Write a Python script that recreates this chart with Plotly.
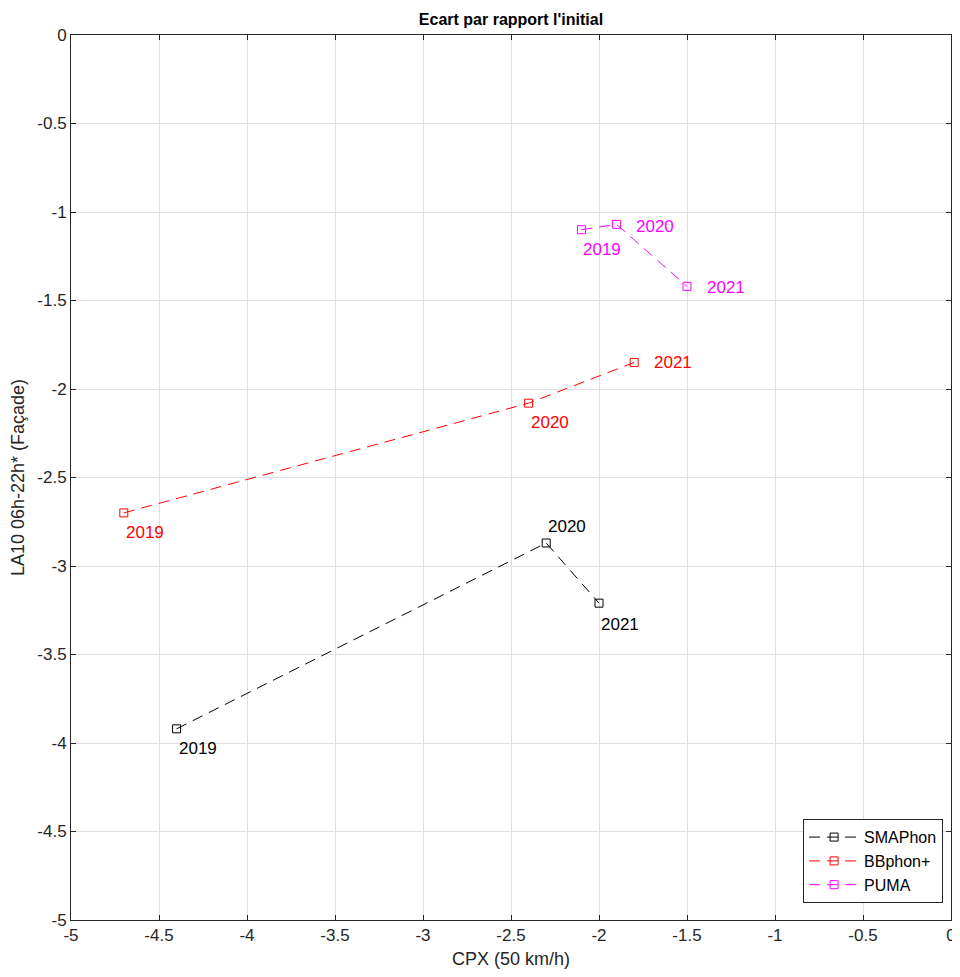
import plotly.graph_objects as go

years = ["2019", "2020", "2021"]
series_names = ["SMAPhon", "BBphon+", "PUMA"]
cpx = {
    "SMAPhon": [-4.40, -2.30, -2.00],
    "BBphon+": [-4.70, -2.40, -1.80],
    "PUMA": [-2.10, -1.90, -1.50],
}
la10 = {
    "SMAPhon": [-3.92, -2.87, -3.21],
    "BBphon+": [-2.70, -2.08, -1.85],
    "PUMA": [-1.10, -1.07, -1.42],
}
tick_vals = [-5, -4.5, -4, -3.5, -3, -2.5, -2, -1.5, -1, -0.5, 0]
tick_text = ["-5", "-4.5", "-4", "-3.5", "-3", "-2.5", "-2", "-1.5", "-1", "-0.5", "0"]

colors = {"SMAPhon": "#000000", "BBphon+": "#FF0000", "PUMA": "#FF00FF"}
# label placement per point: (xshift, yshift)
label_pos = {
    "SMAPhon": [(0, -20), (0, 16), (0, -21)],
    "BBphon+": [(0, -20), (0, -19), (18, 0)],
    "PUMA": [(0, -20), (17, -2), (18, -1)],
}

FONT = "Liberation Sans, Arial, Helvetica, sans-serif"
fig = go.Figure()
annotations = []
for name in series_names:
    fig.add_trace(go.Scatter(
        x=cpx[name], y=la10[name], name=name, mode="lines+markers",
        line=dict(color=colors[name], width=1, dash="11px,7px"),
        marker=dict(symbol="square-open", size=8, color=colors[name], line=dict(width=1)),
    ))
    for xv, yv, yr, (dx, dy) in zip(cpx[name], la10[name], years, label_pos[name]):
        annotations.append(dict(
            x=xv, y=yv, xref="x", yref="y", text=yr, showarrow=False,
            xanchor="left", yanchor="middle", xshift=dx, yshift=dy,
            font=dict(family=FONT, size=17, color=colors[name]),
        ))

axis_common = dict(
    showgrid=True, gridcolor="#DFDFDF", gridwidth=1,
    showline=True, linecolor="#262626", linewidth=1, mirror="ticks",
    ticks="inside", ticklen=5, tickcolor="#262626",
    tickfont=dict(family=FONT, size=17, color="#262626"),
    zeroline=False, tickmode="array", tickvals=tick_vals, ticktext=tick_text,
    automargin=False,
)
W, H = 952, 961
fig.update_layout(
    width=W, height=H,
    margin=dict(l=63, r=9, t=27, b=49),
    paper_bgcolor="white", plot_bgcolor="white",
    title=dict(text="<b>Ecart par rapport l'initial</b>", x=503 / W, xanchor="center",
               y=1 - 11 / H, yanchor="middle",
               font=dict(family=FONT, size=16, color="#000000")),
    xaxis=dict(range=[-5, 0], title=dict(text="CPX (50 km/h)", standoff=11,
               font=dict(family=FONT, size=18, color="#262626")), **axis_common),
    yaxis=dict(range=[-5, 0], title=dict(text="LA10 06h-22h* (Façade)", standoff=14,
               font=dict(family=FONT, size=18, color="#262626")), **axis_common),
    legend=dict(x=0.991, y=0.019, xanchor="right", yanchor="bottom",
                bgcolor="white", bordercolor="#262626", borderwidth=1,
                font=dict(family=FONT, size=16, color="#000000"),
                tracegroupgap=0, itemwidth=50),
    annotations=annotations,
    showlegend=True,
)
fig.write_html("out.html")
